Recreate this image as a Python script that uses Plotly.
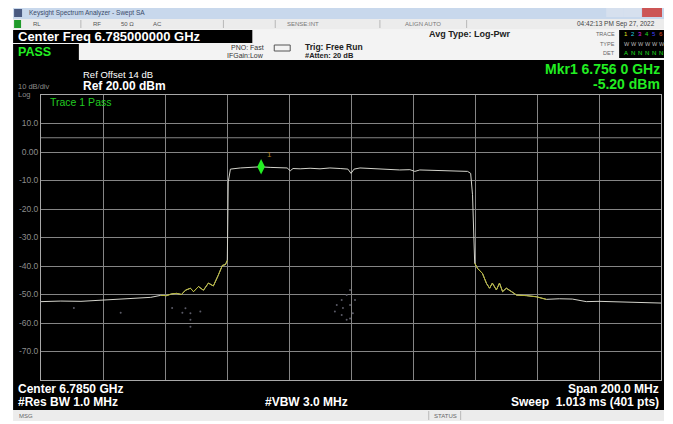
import plotly.graph_objects as go

# sweep settings
center_ghz = 6.785
span_ghz = 0.200
ref_dbm = 20
limit_dbm = 5
mkr_freq_ghz = 6.7560
mkr_level_dbm = -5.20

# trace 1
freq_ghz = [
    6.6850, 6.6914, 6.6979, 6.7043, 6.7091, 6.7139, 6.7172, 6.7204, 6.7236,
    6.7255, 6.7271, 6.7287, 6.7303, 6.7316, 6.7332, 6.7342, 6.7358, 6.7374,
    6.7390, 6.7406, 6.7422, 6.7435, 6.7445, 6.7451, 6.7454, 6.7461, 6.7493,
    6.7525, 6.7557, 6.7589, 6.7622, 6.7644, 6.7654, 6.7663, 6.7686, 6.7718,
    6.7750, 6.7782, 6.7815, 6.7840, 6.7850, 6.7860, 6.7879, 6.7911, 6.7943,
    6.7975, 6.8007, 6.8040, 6.8056, 6.8072, 6.8104, 6.8136, 6.8168, 6.8200,
    6.8226, 6.8236, 6.8242, 6.8249, 6.8258, 6.8274, 6.8287, 6.8297, 6.8306,
    6.8319, 6.8329, 6.8339, 6.8351, 6.8368, 6.8384, 6.8416, 6.8448, 6.8480,
    6.8522, 6.8564, 6.8609, 6.8650, 6.8705, 6.8757, 6.8821, 6.8850,
]
level_dbm = [
    -52.5, -52.3, -52.4, -52.0, -51.8, -51.5, -51.2, -51.0, -50.3,
    -50.4, -49.8, -49.6, -50.0, -48.5, -47.8, -49.0, -47.2, -48.5,
    -46.0, -47.0, -43.2, -39.8, -39.5, -38.0, -10.5, -6.0, -5.6,
    -5.4, -5.2, -5.4, -5.5, -5.6, -6.6, -5.8, -5.9, -5.7,
    -5.9, -5.6, -5.8, -6.0, -7.5, -6.0, -5.6, -5.8, -6.0,
    -6.1, -6.3, -6.2, -6.8, -6.3, -6.4, -6.5, -6.6, -6.5,
    -6.8, -7.5, -15.0, -39.0, -40.8, -42.6, -46.1, -47.8, -46.0,
    -48.4, -46.0, -49.0, -47.8, -49.0, -50.2, -50.4, -50.8, -51.7,
    -51.5, -51.6, -52.5, -52.4, -52.6, -52.8, -53.1, -53.0,
]

# faint dotted trace under the floor
dot_freq_ghz = [
    6.6956, 6.7107, 6.7273, 6.7306, 6.7316, 6.7332, 6.7332, 6.7332, 6.7364,
    6.7847, 6.7836, 6.7820, 6.7863, 6.7804, 6.7847, 6.7824, 6.7798, 6.7856,
    6.7820, 6.7847, 6.7836,
]
dot_level_dbm = [
    -54.7, -56.4, -54.7, -56.4, -54.8, -56.6, -58.9, -61.3, -56.0,
    -48.4, -50.2, -51.9, -51.9, -53.7, -53.7, -54.7, -56.0, -56.6,
    -57.2, -58.4, -58.9,
]

grid_freq_ghz = [6.685, 6.705, 6.725, 6.745, 6.765, 6.785, 6.805, 6.825, 6.845, 6.865, 6.885]
level_ticks = [10, 0, -10, -20, -30, -40, -50, -60, -70]
level_ticktext = ["10.0", "0.00", "-10.0", "-20.0", "-30.0", "-40.0", "-50.0", "-60.0", "-70.0"]

# page is 673x424, the plot div sits 8px in from the page corner
PAGE_W, PAGE_H, OFF = 673, 424, 8
L, T, R, B = 40, 95, 662, 380
PW, PH = R - L, B - T
FONT = "Liberation Sans"
GRID = "#858585"


def px(x):
    return (x - L) / PW


def py(y):
    return 1 - (y - T) / PH


fig = go.Figure()

# yellow skirts drawn from the same trace
skirt = [i for i, f in enumerate(freq_ghz) if 6.7225 <= f <= 6.7451 or 6.8249 <= f <= 6.8480]

fig.add_trace(go.Scatter(x=dot_freq_ghz, y=dot_level_dbm, mode="markers",
                         marker=dict(size=2, color="#5a5a66"), hoverinfo="skip"))
fig.add_trace(go.Scatter(x=freq_ghz, y=level_dbm, mode="lines",
                         line=dict(color="#d4d4cc", width=1)))
for seg in ([i for i in skirt if freq_ghz[i] < center_ghz], [i for i in skirt if freq_ghz[i] > center_ghz]):
    fig.add_trace(go.Scatter(x=[freq_ghz[i] for i in seg], y=[level_dbm[i] for i in seg],
                             mode="lines", line=dict(color="#b8b830", width=1)))
fig.add_trace(go.Scatter(x=[mkr_freq_ghz], y=[mkr_level_dbm], mode="markers",
                         marker=dict(symbol="diamond-tall", size=11, color="#22ee22")))
fig.add_annotation(x=mkr_freq_ghz, y=mkr_level_dbm, text="1", showarrow=False,
                   xshift=8, yshift=12, font=dict(family=FONT, size=8, color="#b08020"))

# limit line
fig.add_hline(y=limit_dbm, line=dict(color=GRID, width=1))

shapes = []


def rect(x0, y0, x1, y1, color, line=None):
    shapes.append(dict(type="rect", xref="paper", yref="paper", layer="below",
                       x0=px(x0), x1=px(x1), y0=py(y1), y1=py(y0),
                       fillcolor=color, line=dict(width=0) if line is None else line))


def vline(x, y0, y1, color="#b0b0b0"):
    shapes.append(dict(type="line", xref="paper", yref="paper", layer="above",
                       x0=px(x), x1=px(x), y0=py(y0), y1=py(y1), line=dict(color=color, width=1)))


def text(x, y, s, size, color="#ffffff", anchor="left", bold=False):
    fig.add_annotation(x=px(x), y=py(y), xref="paper", yref="paper", text=f"<b>{s}</b>" if bold else s,
                       showarrow=False, xanchor=anchor, yanchor="middle",
                       font=dict(family=FONT, size=size, color=color))


# window chrome
rect(12, 7, 665, 19, "#c8d8ec")
rect(13, 9, 21, 17, "#4a5a80")
rect(607, 8, 624, 17, "#d6e0ee")
rect(624, 8, 642, 17, "#d6e0ee")
rect(643, 8, 663, 17, "#cc5555")
text(26, 13, "Keysight Spectrum Analyzer - Swept SA", 6.5, "#3a4a6a")
rect(12, 19, 665, 29, "#ececec")
rect(13, 20, 20, 28, "#1f9a2a")
for xs in (80, 223, 275, 380, 467):
    vline(xs, 20, 28, "#b8b8b8")
text(30, 24, "RL", 6, "#555555")
text(90, 24, "RF", 6, "#555555")
text(118, 24, "50 Ω", 6, "#555555")
text(150, 24, "AC", 6, "#555555")
text(285, 24, "SENSE:INT", 6, "#777777")
text(403, 24, "ALIGN AUTO", 6, "#777777")
text(658, 24, "04:42:13 PM Sep 27, 2022", 6.5, "#444444", "right")

# header panel
rect(12, 29, 665, 60, "#f3f3f3")
rect(12, 30, 252, 43, "#000000")
text(15, 36.5, "Center Freq 6.785000000 GHz", 13, bold=True)
rect(12, 44, 78, 60, "#000000")
text(15, 52, "PASS", 12.5, "#22ee22", bold=True)
text(266, 48, "PNO: Fast", 7, "#333333", "right")
text(266, 55, "IFGain:Low", 7, "#333333", "right")
rect(274, 45, 290, 51, "#f3f3f3", dict(color="#555555", width=1))
text(303, 47.5, "Trig: Free Run", 8.5, "#222222", bold=True)
text(303, 55.5, "#Atten: 20 dB", 7.5, "#222222", bold=True)
text(427, 34, "Avg Type: Log-Pwr", 9, "#222222", bold=True)
text(618, 34, "TRACE", 5.5, "#666666", "right")
text(618, 44, "TYPE", 5.5, "#666666", "right")
text(618, 53, "DET", 5.5, "#666666", "right")
rect(620, 30, 665, 58, "#000000")
for k, c in enumerate(["#e0e020", "#20d0e0", "#e020e0", "#20e020", "#4040ff", "#e05020"]):
    text(623 + k * 7, 34, str(k + 1), 6, c)
    text(623 + k * 7, 44, "W", 5.5, "#bbbbbb")
    text(623 + k * 7, 53, "A" if k == 0 else "N", 6, "#20e020")

# instrument screen
rect(12, 60, 665, 410, "#000000")
text(80, 74, "Ref Offset 14 dB", 9.5)
text(80, 86.5, "Ref 20.00 dBm", 12, bold=True)
text(15, 87, "10 dB/div", 7.5, "#8a8a8a")
text(15, 94, "Log", 7.5, "#8a8a8a")
text(663, 69.5, "Mkr1 6.756 0 GHz", 14, "#22ee22", "right", bold=True)
text(663, 84, "-5.20 dBm", 14, "#22ee22", "right", bold=True)
text(47, 102, "Trace 1 Pass", 10.5, "#22cc22")
text(15, 389, "Center 6.7850 GHz", 12, bold=True)
text(15, 402, "#Res BW 1.0 MHz", 12, bold=True)
text(263, 402, "#VBW 3.0 MHz", 12, bold=True)
text(662, 389, "Span 200.0 MHz", 12, "#ffffff", "right", bold=True)
text(662, 402, "Sweep  1.013 ms (401 pts)", 12, "#ffffff", "right", bold=True)

# status bar
rect(12, 410, 665, 421, "#ececec")
vline(429, 411, 420, "#b8b8b8")
vline(461, 411, 420, "#b8b8b8")
text(16, 415.5, "MSG", 6, "#666666")
text(432, 415.5, "STATUS", 6, "#666666")

fig.update_layout(
    width=PAGE_W - OFF, height=PAGE_H - OFF,
    margin=dict(l=L - OFF, r=PAGE_W - R, t=T - OFF, b=PAGE_H - B),
    paper_bgcolor="#ffffff",
    plot_bgcolor="#000000",
    showlegend=False,
    shapes=list(fig.layout.shapes) + shapes,
)
fig.update_xaxes(range=[center_ghz - span_ghz / 2, center_ghz + span_ghz / 2],
                 tickvals=grid_freq_ghz, showticklabels=False,
                 showgrid=True, gridcolor=GRID, gridwidth=1, zeroline=False,
                 showline=True, linecolor="#a8a8a8", linewidth=1, mirror=True)
fig.update_yaxes(range=[ref_dbm - 100, ref_dbm],
                 tickvals=level_ticks, ticktext=level_ticktext,
                 tickfont=dict(family=FONT, size=8.5, color="#8c8c8c"),
                 showgrid=True, gridcolor=GRID, gridwidth=1, zeroline=False,
                 showline=True, linecolor="#a8a8a8", linewidth=1, mirror=True)

fig.write_html("out.html")
